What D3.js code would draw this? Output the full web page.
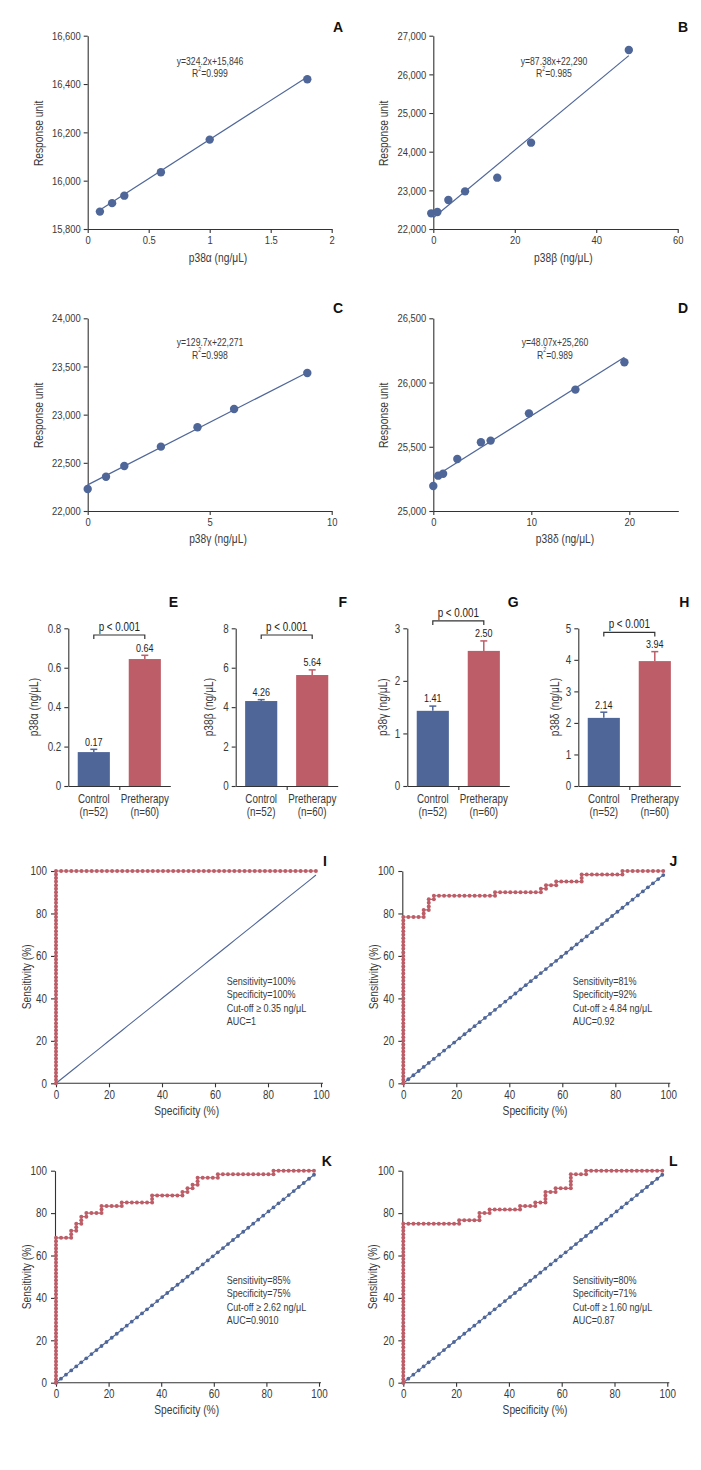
<!DOCTYPE html>
<html><head><meta charset="utf-8">
<script src="https://cdn.jsdelivr.net/npm/d3@7"></script>
<style>
body{margin:0;background:#fff;}
svg{display:block;font-family:"Liberation Sans",Arial,sans-serif;}
</style></head><body>
<svg id="c" width="701" height="1470"></svg>
<script>
// ---------- DATA ----------
// Calibration curves (A-D)
const calA_x = [0.1, 0.2, 0.3, 0.6, 1.0, 1.8];
const calA_y = [15872, 15907, 15938, 16035, 16170, 16420];
const calB_x = [-0.5, 1.0, 3.7, 7.8, 15.7, 24.0, 48.0];
const calB_y = [22405, 22440, 22750, 22974, 23328, 24233, 26630];
const calC_x = [0, 0.75, 1.5, 3.0, 4.5, 6.0, 9.0];
const calC_y = [22228, 22356, 22467, 22668, 22869, 23059, 23433];
const calD_x = [0, 0.5, 1.0, 2.45, 4.86, 5.85, 9.76, 14.5, 19.5];
const calD_y = [25195, 25275, 25290, 25405, 25535, 25548, 25760, 25945, 26158];
const fitSlope = [324.2, 87.38, 129.7, 48.07];
const fitIntercept = [15846, 22290, 22271, 25260];
const fitEq = ["y=324.2x+15,846", "y=87.38x+22,290", "y=129.7x+22,271", "y=48.07x+25,260"];
const fitR2 = ["0.999", "0.985", "0.998", "0.989"];
const xTicksA = [0, 0.5, 1, 1.5, 2], yTicksA = [15800, 16000, 16200, 16400, 16600];
const xTicksB = [0, 20, 40, 60],     yTicksB = [22000, 23000, 24000, 25000, 26000, 27000];
const xTicksC = [0, 5, 10],          yTicksC = [22000, 22500, 23000, 23500, 24000];
const xTicksD = [0, 10, 20],         yTicksD = [25000, 25500, 26000, 26500];
const isoLabels = ["p38\u03b1 (ng/\u03bcL)", "p38\u03b2 (ng/\u03bcL)", "p38\u03b3 (ng/\u03bcL)", "p38\u03b4 (ng/\u03bcL)"];

// Bar charts (E-H)
const groups = ["Control", "Pretherapy"];
const groupN = ["(n=52)", "(n=60)"];
const barE = [0.172, 0.644], errE = [0.014, 0.019], lblE = ["0.17", "0.64"];
const barF = [4.31, 5.63],   errF = [0.07, 0.26],   lblF = ["4.26", "5.64"];
const barG = [1.43, 2.57],   errG = [0.09, 0.19],   lblG = ["1.41", "2.50"];
const barH = [2.16, 3.96],   errH = [0.18, 0.30],   lblH = ["2.14", "3.94"];
const yTicksE = [0, 0.2, 0.4, 0.6, 0.8], yTicksF = [0, 2, 4, 6, 8], yTicksG = [0, 1, 2, 3], yTicksH = [0, 1, 2, 3, 4, 5];
const bracketLevel = [0.766, 7.66, 3.14, 4.87];
const pText = "p < 0.001";

// ROC curves (I-L): [false-positive count among controls, true-positive count among pretherapy]
const nControl = 52, nPretherapy = 60;
const rocI = [[0,0],[0,1],[0,2],[0,3],[0,4],[0,5],[0,6],[0,7],[0,8],[0,9],[0,10],[0,11],[0,12],[0,13],[0,14],[0,15],[0,16],[0,17],[0,18],[0,19],[0,20],[0,21],[0,22],[0,23],[0,24],[0,25],[0,26],[0,27],[0,28],[0,29],[0,30],[0,31],[0,32],[0,33],[0,34],[0,35],[0,36],[0,37],[0,38],[0,39],[0,40],[0,41],[0,42],[0,43],[0,44],[0,45],[0,46],[0,47],[0,48],[0,49],[0,50],[0,51],[0,52],[0,53],[0,54],[0,55],[0,56],[0,57],[0,58],[0,59],[0,60],[1,60],[2,60],[3,60],[4,60],[5,60],[6,60],[7,60],[8,60],[9,60],[10,60],[11,60],[12,60],[13,60],[14,60],[15,60],[16,60],[17,60],[18,60],[19,60],[20,60],[21,60],[22,60],[23,60],[24,60],[25,60],[26,60],[27,60],[28,60],[29,60],[30,60],[31,60],[32,60],[33,60],[34,60],[35,60],[36,60],[37,60],[38,60],[39,60],[40,60],[41,60],[42,60],[43,60],[44,60],[45,60],[46,60],[47,60],[48,60],[49,60],[50,60],[51,60]];
const rocJ = [[0,0],[0,1],[0,2],[0,3],[0,4],[0,5],[0,6],[0,7],[0,8],[0,9],[0,10],[0,11],[0,12],[0,13],[0,14],[0,15],[0,16],[0,17],[0,18],[0,19],[0,20],[0,21],[0,22],[0,23],[0,24],[0,25],[0,26],[0,27],[0,28],[0,29],[0,30],[0,31],[0,32],[0,33],[0,34],[0,35],[0,36],[0,37],[0,38],[0,39],[0,40],[0,41],[0,42],[0,43],[0,44],[0,45],[0,46],[0,47],[1,47],[2,47],[3,47],[4,47],[4,48],[4,49],[5,49],[5,50],[5,51],[5,52],[6,52],[6,53],[7,53],[8,53],[9,53],[10,53],[11,53],[12,53],[13,53],[14,53],[15,53],[16,53],[17,53],[18,53],[18,54],[19,54],[20,54],[21,54],[22,54],[23,54],[24,54],[25,54],[26,54],[27,54],[27,55],[28,55],[28,56],[29,56],[30,56],[30,57],[31,57],[32,57],[33,57],[34,57],[35,57],[35,58],[35,59],[36,59],[37,59],[38,59],[39,59],[40,59],[41,59],[42,59],[43,59],[43,60],[44,60],[45,60],[46,60],[47,60],[48,60],[49,60],[50,60],[51,60]];
const rocK = [[0,0],[0,1],[0,2],[0,3],[0,4],[0,5],[0,6],[0,7],[0,8],[0,9],[0,10],[0,11],[0,12],[0,13],[0,14],[0,15],[0,16],[0,17],[0,18],[0,19],[0,20],[0,21],[0,22],[0,23],[0,24],[0,25],[0,26],[0,27],[0,28],[0,29],[0,30],[0,31],[0,32],[0,33],[0,34],[0,35],[0,36],[0,37],[0,38],[0,39],[0,40],[0,41],[1,41],[2,41],[3,41],[3,42],[3,43],[4,43],[4,44],[4,45],[5,45],[5,46],[5,47],[6,47],[6,48],[7,48],[8,48],[9,48],[9,49],[9,50],[10,50],[11,50],[12,50],[13,50],[13,51],[14,51],[15,51],[16,51],[17,51],[18,51],[19,51],[19,52],[19,53],[20,53],[21,53],[22,53],[23,53],[24,53],[25,53],[25,54],[26,54],[26,55],[27,55],[27,56],[28,56],[28,57],[28,58],[29,58],[30,58],[31,58],[32,58],[32,59],[33,59],[34,59],[35,59],[36,59],[37,59],[38,59],[39,59],[40,59],[41,59],[42,59],[43,59],[43,60],[44,60],[45,60],[46,60],[47,60],[48,60],[49,60],[50,60],[51,60]];
const rocL = [[0,0],[0,1],[0,2],[0,3],[0,4],[0,5],[0,6],[0,7],[0,8],[0,9],[0,10],[0,11],[0,12],[0,13],[0,14],[0,15],[0,16],[0,17],[0,18],[0,19],[0,20],[0,21],[0,22],[0,23],[0,24],[0,25],[0,26],[0,27],[0,28],[0,29],[0,30],[0,31],[0,32],[0,33],[0,34],[0,35],[0,36],[0,37],[0,38],[0,39],[0,40],[0,41],[0,42],[0,43],[0,44],[0,45],[1,45],[2,45],[3,45],[4,45],[5,45],[6,45],[7,45],[8,45],[9,45],[10,45],[11,45],[11,46],[12,46],[13,46],[14,46],[15,46],[15,47],[15,48],[16,48],[17,48],[17,49],[18,49],[19,49],[20,49],[21,49],[22,49],[23,49],[23,50],[24,50],[25,50],[26,50],[26,51],[27,51],[28,51],[28,52],[28,53],[28,54],[29,54],[30,54],[30,55],[31,55],[32,55],[33,55],[33,56],[33,57],[33,58],[33,59],[34,59],[35,59],[36,59],[36,60],[37,60],[38,60],[39,60],[40,60],[41,60],[42,60],[43,60],[44,60],[45,60],[46,60],[47,60],[48,60],[49,60],[50,60],[51,60]];
// reference diagonal (%)
const refLine = [0,1.9,3.8,5.8,7.7,9.6,11.5,13.5,15.4,17.3,19.2,21.2,23.1,25.0,26.9,28.8,30.8,32.7,34.6,36.5,38.5,40.4,42.3,44.2,46.2,48.1,50.0,51.9,53.8,55.8,57.7,59.6,61.5,63.5,65.4,67.3,69.2,71.2,73.1,75.0,76.9,78.8,80.8,82.7,84.6,86.5,88.5,90.4,92.3,94.2,96.2,98.1];
const rocTicks = [0, 20, 40, 60, 80, 100];
const rocTextI = ["Sensitivity=100%", "Specificity=100%", "Cut-off \u2265 0.35 ng/\u03bcL", "AUC=1"];
const rocTextJ = ["Sensitivity=81%", "Specificity=92%", "Cut-off \u2265 4.84 ng/\u03bcL", "AUC=0.92"];
const rocTextK = ["Sensitivity=85%", "Specificity=75%", "Cut-off \u2265 2.62 ng/\u03bcL", "AUC=0.9010"];
const rocTextL = ["Sensitivity=80%", "Specificity=71%", "Cut-off \u2265 1.60 ng/\u03bcL", "AUC=0.87"];

// ---------- STYLE ----------
const BLUE = "#4f6699", RED = "#bd5d67", AX = "#333", TXT = "#3a3a3a";
const SX = 0.82; // condensed look
const svg = d3.select("#c");

function cond(sel, origin = "center", rot = false) {
  sel.style("transform-box", "fill-box").style("transform-origin", origin)
     .style("transform", (rot ? "rotate(-90deg) " : "") + `scaleX(${SX})`);
}
function styleAxis(g, fs, origin) {
  g.attr("font-family", null).attr("font-size", null);
  g.selectAll("path,line").attr("stroke", AX).attr("stroke-width", 1.1);
  const t = g.selectAll("text").attr("fill", TXT).style("font-size", fs + "px");
  cond(t, origin);
}
function label(x, y, t, o = {}) {
  const el = svg.append("text").attr("x", x).attr("y", y).text(t)
    .attr("text-anchor", o.anchor || "middle").attr("dominant-baseline", "central")
    .attr("fill", o.fill || TXT).style("font-size", (o.fs || 12) + "px");
  if (o.bold) { el.attr("font-weight", "bold").attr("fill", "#111"); }
  else cond(el, o.anchor === "start" ? "left center" : "center", !!o.rot);
  return el;
}

// ---------- CALIBRATION PANELS ----------
function calPanel(o) {
  const x = d3.scaleLinear().domain(o.xDomain).range([o.left, o.right]);
  const y = d3.scaleLinear().domain(o.yDomain).range([o.bottom, o.top]);
  const ax = svg.append("g").attr("transform", `translate(0,${o.bottom})`)
    .call(d3.axisBottom(x).tickValues(o.xTicks).tickSize(4).tickSizeOuter(0).tickPadding(3).tickFormat(d3.format("~g")));
  styleAxis(ax, 11.5, "center");
  const ay = svg.append("g").attr("transform", `translate(${o.left},0)`)
    .call(d3.axisLeft(y).tickValues(o.yTicks).tickSize(4).tickSizeOuter(0).tickPadding(3).tickFormat(d3.format(",")));
  styleAxis(ay, 11.5, "right center");
  const x0 = Math.max(0, d3.min(o.xs)), x1 = d3.max(o.xs);
  svg.append("line").attr("x1", x(x0)).attr("y1", y(o.slope * x0 + o.icpt))
    .attr("x2", x(x1)).attr("y2", y(o.slope * x1 + o.icpt))
    .attr("stroke", BLUE).attr("stroke-width", 1.2);
  svg.append("g").selectAll("circle").data(o.xs.map((v, i) => [v, o.ys[i]])).join("circle")
    .attr("cx", d => x(d[0])).attr("cy", d => y(d[1])).attr("r", 4.2).attr("fill", BLUE);
  label(o.eqX, o.eqY, o.eq, { fs: 10.5 });
  const r = svg.append("text").attr("x", o.eqX).attr("y", o.eqY + 12).attr("text-anchor", "middle")
    .attr("dominant-baseline", "central").attr("fill", TXT).style("font-size", "10.5px");
  r.append("tspan").text("R");
  r.append("tspan").text("2").style("font-size", "6.5px").attr("dy", -4);
  r.append("tspan").text("=" + o.r2).attr("dy", 4);
  cond(r);
  label(o.ylx, o.yly, "Response unit", { fs: 12.5, rot: true });
  label(o.xlx, o.xly, o.xlabel, { fs: 12.5 });
  label(o.lx, o.ly, o.letter, { fs: 14, bold: true });
}
calPanel({ xs: calA_x, ys: calA_y, xDomain: [0, 2], yDomain: [15800, 16600], xTicks: xTicksA, yTicks: yTicksA,
  left: 87.7, right: 331.7, top: 35.7, bottom: 229, slope: fitSlope[0], icpt: fitIntercept[0], eq: fitEq[0], r2: fitR2[0],
  eqX: 210, eqY: 60.7, ylx: 37.7, yly: 133, xlx: 218, xly: 257.3, xlabel: isoLabels[0], letter: "A", lx: 338, ly: 27 });
calPanel({ xs: calB_x, ys: calB_y, xDomain: [0, 60], yDomain: [22000, 27000], xTicks: xTicksB, yTicks: yTicksB,
  left: 433.3, right: 677.7, top: 35.7, bottom: 229, slope: fitSlope[1], icpt: fitIntercept[1], eq: fitEq[1], r2: fitR2[1],
  eqX: 554, eqY: 60.7, ylx: 383.3, yly: 133, xlx: 563.3, xly: 257.3, xlabel: isoLabels[1], letter: "B", lx: 683, ly: 27 });
calPanel({ xs: calC_x, ys: calC_y, xDomain: [0, 10], yDomain: [22000, 24000], xTicks: xTicksC, yTicks: yTicksC,
  left: 87.7, right: 331.7, top: 318.3, bottom: 511, slope: fitSlope[2], icpt: fitIntercept[2], eq: fitEq[2], r2: fitR2[2],
  eqX: 210, eqY: 342.3, ylx: 37.7, yly: 415, xlx: 218, xly: 538.3, xlabel: isoLabels[2], letter: "C", lx: 338, ly: 308 });
calPanel({ xs: calD_x, ys: calD_y, xDomain: [0, 25], yDomain: [25000, 26500], xTicks: xTicksD, yTicks: yTicksD,
  left: 433.3, right: 678.3, top: 318.3, bottom: 511, slope: fitSlope[3], icpt: fitIntercept[3], eq: fitEq[3], r2: fitR2[3],
  eqX: 555, eqY: 342.3, ylx: 383.3, yly: 415, xlx: 565, xly: 538.3, xlabel: isoLabels[3], letter: "D", lx: 683, ly: 308 });

// ---------- BAR PANELS ----------
function barPanel(o) {
  const top = 628.3, bottom = 786;
  const x = d3.scaleBand().domain(groups).range([o.left, o.left + 102]).paddingInner(0.37).paddingOuter(0.185);
  const y = d3.scaleLinear().domain([0, d3.max(o.ticks)]).range([bottom, top]);
  const colors = [BLUE, RED];
  const cx = g => x(g) + x.bandwidth() / 2;
  svg.append("g").selectAll("rect").data(groups).join("rect")
    .attr("x", g => x(g)).attr("width", x.bandwidth())
    .attr("y", (g, i) => y(o.vals[i])).attr("height", (g, i) => bottom - y(o.vals[i]))
    .attr("fill", (g, i) => colors[i]);
  groups.forEach((g, i) => {
    const yt = y(o.vals[i] + o.errs[i]);
    svg.append("line").attr("x1", cx(g)).attr("x2", cx(g)).attr("y1", y(o.vals[i])).attr("y2", yt)
      .attr("stroke", colors[i]).attr("stroke-width", 1.5);
    svg.append("line").attr("x1", cx(g) - 3.5).attr("x2", cx(g) + 3.5).attr("y1", yt).attr("y2", yt)
      .attr("stroke", colors[i]).attr("stroke-width", 1.5);
    label(cx(g), yt - 7.5, o.lbls[i], { fs: 11, fill: "#222" });
    label(cx(g), 798.5, g, { fs: 12 });
    label(cx(g), 811.5, groupN[i], { fs: 12 });
  });
  const ay = svg.append("g").attr("transform", `translate(${o.left},0)`)
    .call(d3.axisLeft(y).tickValues(o.ticks).tickSize(4).tickSizeOuter(0).tickPadding(3).tickFormat(d3.format("~g")));
  styleAxis(ay, 12, "right center");
  const ax = svg.append("g").attr("transform", `translate(0,${bottom})`)
    .call(d3.axisBottom(d3.scaleLinear().domain([0, 2]).range([o.left, o.left + 102])).tickValues([1]).tickSize(4).tickSizeOuter(0).tickFormat(""));
  styleAxis(ax, 11, "center");
  const by = y(o.bracket), b0 = cx(groups[0]), b1 = cx(groups[1]);
  svg.append("path").attr("d", `M${b0},${by + 4}V${by}H${b1}V${by + 4}`).attr("fill", "none")
    .attr("stroke", AX).attr("stroke-width", 1.2);
  label((b0 + b1) / 2, by - 8.5, pText, { fs: 12, fill: "#222" });
  label(o.ylx, 707, o.ylabel, { fs: 12.5, rot: true });
  label(o.lx, 601.7, o.letter, { fs: 14, bold: true });
}
barPanel({ vals: barE, errs: errE, lbls: lblE, ticks: yTicksE, bracket: bracketLevel[0], left: 68.3, ylx: 33.3, ylabel: isoLabels[0], letter: "E", lx: 173.3 });
barPanel({ vals: barF, errs: errF, lbls: lblF, ticks: yTicksF, bracket: bracketLevel[1], left: 235.7, ylx: 208.3, ylabel: isoLabels[1], letter: "F", lx: 342.7 });
barPanel({ vals: barG, errs: errG, lbls: lblG, ticks: yTicksG, bracket: bracketLevel[2], left: 407.3, ylx: 382.7, ylabel: isoLabels[2], letter: "G", lx: 513.3 });
barPanel({ vals: barH, errs: errH, lbls: lblH, ticks: yTicksH, bracket: bracketLevel[3], left: 578.3, ylx: 555, ylabel: isoLabels[3], letter: "H", lx: 684.3 });

// ---------- ROC PANELS ----------
function rocPanel(o) {
  const x = d3.scaleLinear().domain([0, 100]).range([o.left, o.right]);
  const y = d3.scaleLinear().domain([0, 100]).range([o.bottom, o.top]);
  const ax = svg.append("g").attr("transform", `translate(0,${o.bottom})`)
    .call(d3.axisBottom(x).tickValues(rocTicks).tickSize(4).tickSizeOuter(0).tickPadding(3));
  styleAxis(ax, 12, "center");
  ax.select(".domain").attr("d", `M${o.left - 1},0H${o.right + 2}`);
  const ay = svg.append("g").attr("transform", `translate(${o.left - 1},0)`)
    .call(d3.axisLeft(y).tickValues(rocTicks).tickSize(4).tickSizeOuter(0).tickPadding(4));
  styleAxis(ay, 12, "right center");
  const ref = refLine.map(v => [v, v]);
  const line = d3.line().x(d => x(d[0])).y(d => y(d[1]));
  svg.append("path").attr("d", line(ref)).attr("fill", "none").attr("stroke", BLUE).attr("stroke-width", 1.1);
  if (o.refDots) svg.append("g").selectAll("circle").data(ref).join("circle")
    .attr("cx", d => x(d[0])).attr("cy", d => y(d[1])).attr("r", 1.9).attr("fill", BLUE);
  const pts = o.roc.map(d => [d[0] / nControl * 100, d[1] / nPretherapy * 100]);
  svg.append("path").attr("d", line(pts)).attr("fill", "none").attr("stroke", RED).attr("stroke-width", 1.2);
  svg.append("g").selectAll("circle").data(pts).join("circle")
    .attr("cx", d => x(d[0])).attr("cy", d => y(d[1])).attr("r", 2).attr("fill", RED);
  o.text.forEach((t, i) => label(o.tx, o.ty + i * 13.5, t, { fs: 11, anchor: "start" }));
  label(o.ylx, o.yly, "Sensitivity (%)", { fs: 12.5, rot: true });
  label(o.xlx, o.xly, "Specificity (%)", { fs: 12.5 });
  label(o.lx, o.ly, o.letter, { fs: 14, bold: true });
}
rocPanel({ roc: rocI, refDots: false, text: rocTextI, left: 56, right: 321, top: 871, bottom: 1083.3,
  tx: 226.7, ty: 981, ylx: 26.7, yly: 976.7, xlx: 186.7, xly: 1111, letter: "I", lx: 325, ly: 861 });
rocPanel({ roc: rocJ, refDots: true, text: rocTextJ, left: 403.3, right: 668.3, top: 871, bottom: 1083.3,
  tx: 572.7, ty: 981, ylx: 373.3, yly: 976.7, xlx: 535, xly: 1111, letter: "J", lx: 673.3, ly: 861 });
rocPanel({ roc: rocK, refDots: true, text: rocTextK, left: 56, right: 319, top: 1170.7, bottom: 1382.7,
  tx: 226.7, ty: 1280, ylx: 26.7, yly: 1276.7, xlx: 186.7, xly: 1410, letter: "K", lx: 326.7, ly: 1160.7 });
rocPanel({ roc: rocL, refDots: true, text: rocTextL, left: 403.3, right: 667.3, top: 1170.7, bottom: 1382.7,
  tx: 572.7, ty: 1280, ylx: 372.7, yly: 1276.7, xlx: 535, xly: 1410, letter: "L", lx: 673.3, ly: 1160.7 });
</script></body></html>
